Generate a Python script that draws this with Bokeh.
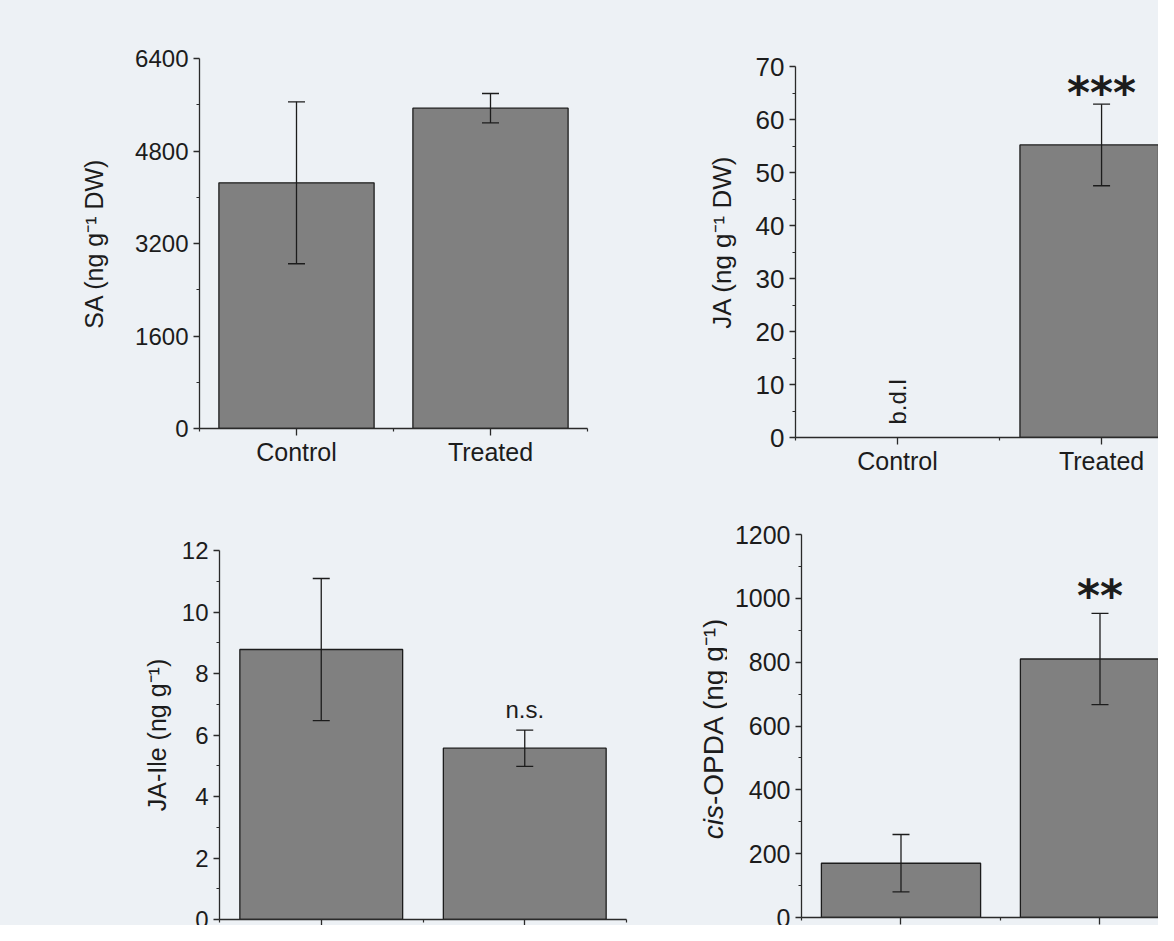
import numpy as np
from bokeh.plotting import figure
from bokeh.models import ColumnDataSource, Whisker, TeeHead, FixedTicker, Range1d
from bokeh.layouts import column, row
from bokeh.embed import file_html
from bokeh.resources import INLINE
from bokeh.core.properties import value

# ---------------- data ----------------
groups = ["Control", "Treated"]

sa_mean = [4250, 5540]
sa_err = [1400, 255]

ja_mean = [float("nan"), 55.2]      # Control below detection limit
ja_err = [float("nan"), 7.7]
ja_missing = ["b.d.l", ""]
ja_marks = ["", "***"]
ja_label = "JA (ng g\u207b\u00b9 DW)"

jaile_mean = [8.78, 5.57]
jaile_err = [2.31, 0.59]
jaile_marks = ["", "n.s."]

opda_mean = [170, 810]
opda_err = [90, 143]
opda_marks = ["", "**"]
opda_label = ["cis", "-OPDA (ng g\u207b\u00b9)"]

sa_ticks = [0, 1600, 3200, 4800, 6400]
sa_minor = [800, 2400, 4000, 5600]
ja_ticks = [0, 10, 20, 30, 40, 50, 60, 70]
ja_minor = [5, 15, 25, 35, 45, 55, 65]
jaile_ticks = [0, 2, 4, 6, 8, 10, 12]
jaile_minor = [1, 3, 5, 7, 9, 11]
opda_ticks = [0, 200, 400, 600, 800, 1000, 1200]
opda_minor = [100, 300, 500, 700, 900, 1100]

# ---------------- style ----------------
BG = "#edf1f5"
FONT = "Liberation Sans"
BAR = "#808080"
INK = "#1c1c1c"


def make_panel(mean, err, ticks, minor, ylabel, frame_w, frame_h, borders, x_end,
               tick_size="24px", label_size="25px", label_standoff=20):
    left, right, top, bottom = borders
    p = figure(frame_width=frame_w, frame_height=frame_h, frame_align=False,
               x_range=Range1d(0.5, x_end), y_range=Range1d(ticks[0], ticks[-1]),
               output_backend="svg", toolbar_location=None,
               min_border_left=left, min_border_right=right,
               min_border_top=top, min_border_bottom=bottom)
    p.background_fill_color = BG
    p.border_fill_color = BG
    p.outline_line_color = None
    p.grid.visible = False

    xs = [i + 1 for i in range(len(groups))]
    m = np.array(mean, dtype=float)
    e = np.array(err, dtype=float)
    src = ColumnDataSource(dict(x=xs, group=groups, mean=m, upper=m + e, lower=m - e))

    p.vbar(x="x", top="mean", bottom=0, width=0.8, source=src,
           fill_color=BAR, line_color=INK, line_width=1.3)
    w = Whisker(base="x", upper="upper", lower="lower", source=src, dimension="height",
                level="overlay", line_color=INK, line_width=1.3,
                upper_head=TeeHead(size=17, line_color=INK, line_width=1.3),
                lower_head=TeeHead(size=17, line_color=INK, line_width=1.3))
    p.add_layout(w)

    # axes
    p.xaxis.ticker = FixedTicker(ticks=xs, minor_ticks=[0.5, 1.5, 2.5])
    p.xaxis.major_label_overrides = {x: g for x, g in zip(xs, groups)}
    p.yaxis.ticker = FixedTicker(ticks=ticks, minor_ticks=minor)
    for ax in (p.xaxis[0], p.yaxis[0]):
        ax.axis_line_color = "#2a2a2a"
        ax.axis_line_width = 1.3
        ax.major_tick_line_color = "#2a2a2a"
        ax.minor_tick_line_color = "#2a2a2a"
        ax.major_tick_line_width = 1.3
        ax.minor_tick_line_width = 1.2
        ax.major_tick_in = 0
        ax.minor_tick_in = 0
        ax.major_label_text_font = FONT
        ax.major_label_text_color = INK
        ax.major_label_standoff = 5
    p.yaxis.major_label_text_font_size = tick_size
    p.xaxis.major_label_text_font_size = "25px"
    p.xaxis.major_tick_out = 7
    p.xaxis.minor_tick_out = 3
    p.yaxis.major_tick_out = 6
    p.yaxis.minor_tick_out = 3
    p.xaxis.major_label_standoff = 2
    if ylabel:
        p.yaxis.axis_label = ylabel
        p.yaxis.axis_label_text_font = FONT
        p.yaxis.axis_label_text_font_style = "normal"
        p.yaxis.axis_label_text_font_size = label_size
        p.yaxis.axis_label_text_color = INK
        p.yaxis.axis_label_standoff = label_standoff
    return p, src


def make_strip(w, h):
    """Narrow blank figure (pixel coordinates) that carries a rotated y title."""
    s = figure(frame_width=w, frame_height=h, frame_align=False,
               x_range=Range1d(0, w), y_range=Range1d(h, 0),
               x_axis_type=None, y_axis_type=None,
               output_backend="svg", toolbar_location=None,
               min_border_left=0, min_border_right=0, min_border_top=0, min_border_bottom=0)
    s.background_fill_color = BG
    s.border_fill_color = BG
    s.outline_line_color = None
    s.grid.visible = False
    return s


# Panel 1: SA
p1, s1 = make_panel(sa_mean, sa_err, sa_ticks, sa_minor, "SA (ng g\u207b\u00b9 DW)",
                    388, 370, (199, 53, 58, 52), 2.5,
                    tick_size="24px", label_size="25px", label_standoff=24)

# Panel 2: JA (title in a strip so it can sit where the original has it)
p2, s2 = make_panel(ja_mean, ja_err, ja_ticks, ja_minor, None,
                    363, 371, (50, 0, 66, 43), 2.279,
                    tick_size="26px")
s2.data["missing"] = ja_missing
s2.data["mark"] = ja_marks
p2.text(x="x", y=0, text="missing", source=s2, angle=np.pi / 2,
        text_align="left", text_baseline="middle", y_offset=-13,
        text_font=value(FONT), text_font_size="24px", text_color=INK)
p2.text(x="x", y="upper", text="mark", source=s2, text_align="center",
        text_baseline="alphabetic", y_offset=-12,
        text_font=value("DejaVu Sans"), text_font_style="bold",
        text_font_size="44px", text_color=INK)
strip2 = make_strip(105, 480)
strip2.text(x=[81], y=[241.5], text=[ja_label], angle=np.pi / 2,
            text_align="center", text_baseline="middle",
            text_font=value(FONT), text_font_size="26px", text_color=INK)

# Panel 3: JA-Ile
p3, s3 = make_panel(jaile_mean, jaile_err, jaile_ticks, jaile_minor, "JA-Ile (ng g\u207b\u00b9)",
                    407, 369, (219, 14, 70, 40), 2.5,
                    tick_size="24px", label_size="25px", label_standoff=8)
s3.data["mark"] = jaile_marks
p3.text(x="x", y="upper", text="mark", source=s3, text_align="center",
        text_baseline="alphabetic", y_offset=-21,
        text_font=value(FONT), text_font_size="24px", text_color=INK)

# Panel 4: cis-OPDA (title in a strip so "cis" can be italic)
p4, s4 = make_panel(opda_mean, opda_err, opda_ticks, opda_minor, None,
                    357, 383, (74, 0, 54, 40), 2.294,
                    tick_size="25px")
s4.data["mark"] = opda_marks
p4.text(x="x", y="upper", text="mark", source=s4, text_align="center",
        text_baseline="alphabetic", y_offset=-18,
        text_font=value("DejaVu Sans"), text_font_style="bold",
        text_font_size="44px", text_color=INK)
strip4 = make_strip(87, 477)
tx, ty = 73.3, 324.5
strip4.text(x=[tx], y=[ty], text=[opda_label[0]], angle=np.pi / 2,
            text_align="right", text_baseline="middle",
            text_font=value(FONT), text_font_style="italic",
            text_font_size="28px", text_color=INK)
strip4.text(x=[tx], y=[ty], text=[opda_label[1]], angle=np.pi / 2,
            text_align="left", text_baseline="middle",
            text_font=value(FONT), text_font_size="28px", text_color=INK)

layout = column(row(p1, strip2, p2, styles={"background-color": BG}),
                row(p3, strip4, p4, styles={"background-color": BG}),
                width=1158, height=925,
                styles={"overflow": "hidden", "background-color": BG})
open("out.html", "w").write(file_html(layout, INLINE))
